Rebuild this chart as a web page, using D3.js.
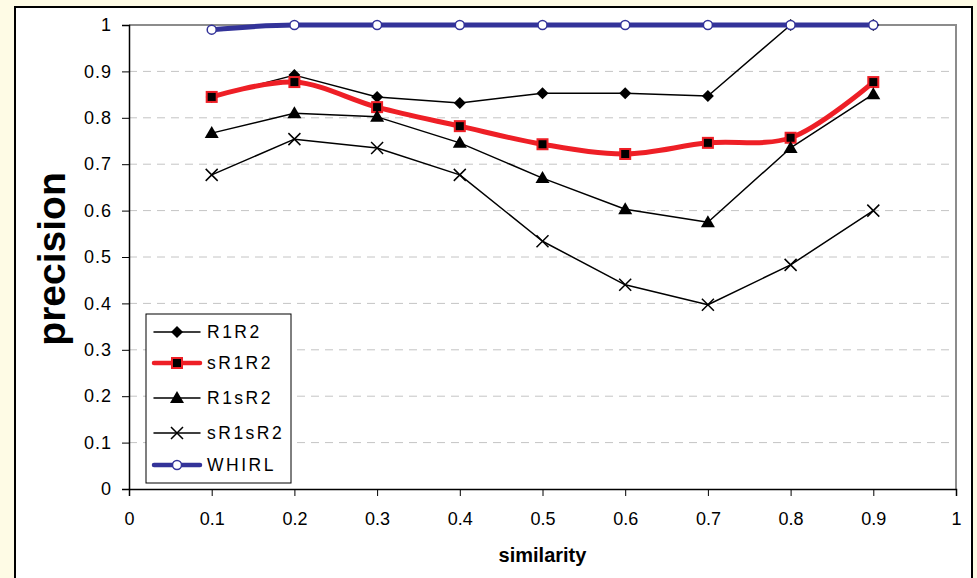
<!DOCTYPE html>
<html>
<head>
<meta charset="utf-8">
<script src="https://cdn.jsdelivr.net/npm/d3@7"></script>
<style>
  html, body { margin: 0; padding: 0; background: #fefbe5; }
  svg { display: block; }
  text { font-family: "Liberation Sans", Arial, sans-serif; }
</style>
</head>
<body>
<svg id="chart" width="977" height="578"></svg>
<script>
// similarity thresholds on the x axis
const similarity = [0.1, 0.2, 0.3, 0.4, 0.5, 0.6, 0.7, 0.8, 0.9];

// precision for each method
const R1R2   = [0.845, 0.892, 0.845, 0.832, 0.853, 0.853, 0.847, 1.0, 1.0];
const sR1R2  = [0.845, 0.877, 0.823, 0.782, 0.743, 0.722, 0.746, 0.757, 0.877];
const R1sR2  = [0.767, 0.810, 0.802, 0.746, 0.670, 0.603, 0.575, 0.735, 0.851];
const sR1sR2 = [0.677, 0.754, 0.735, 0.677, 0.534, 0.440, 0.397, 0.483, 0.600];
const WHIRL  = [0.990, 1.0, 1.0, 1.0, 1.0, 1.0, 1.0, 1.0, 1.0];

const xTicks = [0, 0.1, 0.2, 0.3, 0.4, 0.5, 0.6, 0.7, 0.8, 0.9, 1];
const yTicks = [0, 0.1, 0.2, 0.3, 0.4, 0.5, 0.6, 0.7, 0.8, 0.9, 1];

const series = [
  { name: "R1R2",   values: R1R2,   color: "#000",    width: 1.5, marker: "diamond",  curve: d3.curveLinear },
  { name: "sR1R2",  values: sR1R2,  color: "#ee1f26", width: 5,   marker: "square",   curve: d3.curveCatmullRom.alpha(0.5) },
  { name: "R1sR2",  values: R1sR2,  color: "#000",    width: 1.5, marker: "triangle", curve: d3.curveLinear },
  { name: "sR1sR2", values: sR1sR2, color: "#000",    width: 1.5, marker: "cross",    curve: d3.curveLinear },
  { name: "WHIRL",  values: WHIRL,  color: "#333399", width: 5,   marker: "circle",   curve: d3.curveMonotoneX }
];

const svg = d3.select("#chart");

// white chart panel with a dark frame
svg.append("rect")
  .attr("x", 15).attr("y", 7).attr("width", 957).attr("height", 600)
  .attr("fill", "#fff").attr("stroke", "#000").attr("stroke-width", 2);

const plotL = 129, plotR = 956, plotT = 25, plotB = 489;
const x = d3.scaleLinear().domain([0, 1]).range([plotL, plotR]);
const y = d3.scaleLinear().domain([0, 1]).range([plotB, plotT]);

// dashed gridlines
svg.append("g").selectAll("line")
  .data(yTicks.filter(v => v > 0 && v < 1))
  .join("line")
  .attr("x1", plotL).attr("x2", plotR)
  .attr("y1", d => y(d)).attr("y2", d => y(d))
  .attr("stroke", "#c4c4c4").attr("stroke-width", 1)
  .attr("stroke-dasharray", "8,6");

// grey frame on the top and right of the plot area
svg.append("path")
  .attr("d", `M${plotL},${plotT}H${plotR}V${plotB}`)
  .attr("fill", "none").attr("stroke", "#8c8c8c").attr("stroke-width", 2);

// axes
const xAxis = d3.axisBottom(x).tickValues(xTicks).tickFormat(d3.format("")).tickSize(7).tickPadding(16);
const yAxis = d3.axisLeft(y).tickValues(yTicks).tickFormat(d3.format("")).tickSize(7).tickPadding(10);

const gx = svg.append("g").attr("transform", `translate(0,${plotB})`).call(xAxis);
const gy = svg.append("g").attr("transform", `translate(${plotL},0)`).call(yAxis);
[gx, gy].forEach(g => {
  g.select(".domain").attr("stroke", "#000").attr("stroke-width", 1.5);
  g.selectAll(".tick line").attr("stroke", "#000").attr("stroke-width", 1);
  g.selectAll(".tick text").attr("fill", "#000").style("font-size", "18px")
    .style("font-family", "'Liberation Sans', Arial, sans-serif");
});
gy.selectAll(".tick text").style("letter-spacing", "1px");

// axis titles
svg.append("text")
  .attr("x", x(0.5)).attr("y", 562)
  .attr("text-anchor", "middle")
  .style("font-size", "20px").style("font-weight", "bold")
  .text("similarity");

svg.append("text")
  .attr("transform", `translate(65,${(plotT + plotB) / 2 + 2}) rotate(-90)`)
  .attr("text-anchor", "middle")
  .style("font-size", "39px").style("font-weight", "bold")
  .text("precision");

// marker drawing
function drawMarker(g, type, color) {
  if (type === "diamond") {
    g.append("path").attr("d", "M0,-6L6,0L0,6L-6,0Z").attr("fill", "#000");
  } else if (type === "square") {
    g.append("rect").attr("x", -5).attr("y", -5).attr("width", 10).attr("height", 10)
      .attr("fill", "#000").attr("stroke", color).attr("stroke-width", 2);
  } else if (type === "triangle") {
    g.append("path").attr("d", "M0,-7L7,5L-7,5Z").attr("fill", "#000");
  } else if (type === "cross") {
    g.append("path").attr("d", "M-6,-6L6,6M-6,6L6,-6")
      .attr("stroke", "#000").attr("stroke-width", 1.5).attr("fill", "none");
  } else if (type === "circle") {
    g.append("circle").attr("r", 4.5).attr("fill", "#fff")
      .attr("stroke", color).attr("stroke-width", 1.5);
  }
}

// each series is drawn with its markers, later series on top
series.forEach(s => {
  const pts = similarity.map((v, i) => [v, s.values[i]]);
  const line = d3.line()
    .x(d => x(d[0])).y(d => y(d[1]))
    .curve(s.curve);
  const g = svg.append("g");
  g.append("path")
    .datum(pts)
    .attr("d", line)
    .attr("fill", "none")
    .attr("stroke", s.color)
    .attr("stroke-width", s.width)
    .attr("stroke-linejoin", "round");
  pts.forEach(p => {
    const m = g.append("g").attr("transform", `translate(${x(p[0])},${y(p[1])})`);
    drawMarker(m, s.marker, s.color);
  });
});

// legend
const lg = svg.append("g").attr("transform", "translate(146,314)");
lg.append("rect").attr("width", 145).attr("height", 169)
  .attr("fill", "#fff").attr("stroke", "#000").attr("stroke-width", 1);
const rowY = [18, 49, 84, 119, 151];
series.forEach((s, i) => {
  const row = lg.append("g").attr("transform", `translate(0,${rowY[i]})`);
  row.append("line").attr("x1", 8).attr("x2", 54).attr("y1", 0).attr("y2", 0)
    .attr("stroke", s.color).attr("stroke-width", s.width === 5 ? 4.5 : 1.5)
    .attr("stroke-linecap", "round");
  const m = row.append("g").attr("transform", "translate(31,0)");
  drawMarker(m, s.marker, s.color);
  row.append("text").attr("x", 61).attr("y", 6)
    .style("font-size", "17.5px").style("letter-spacing", "2.5px")
    .text(s.name);
});
</script>
</body>
</html>
